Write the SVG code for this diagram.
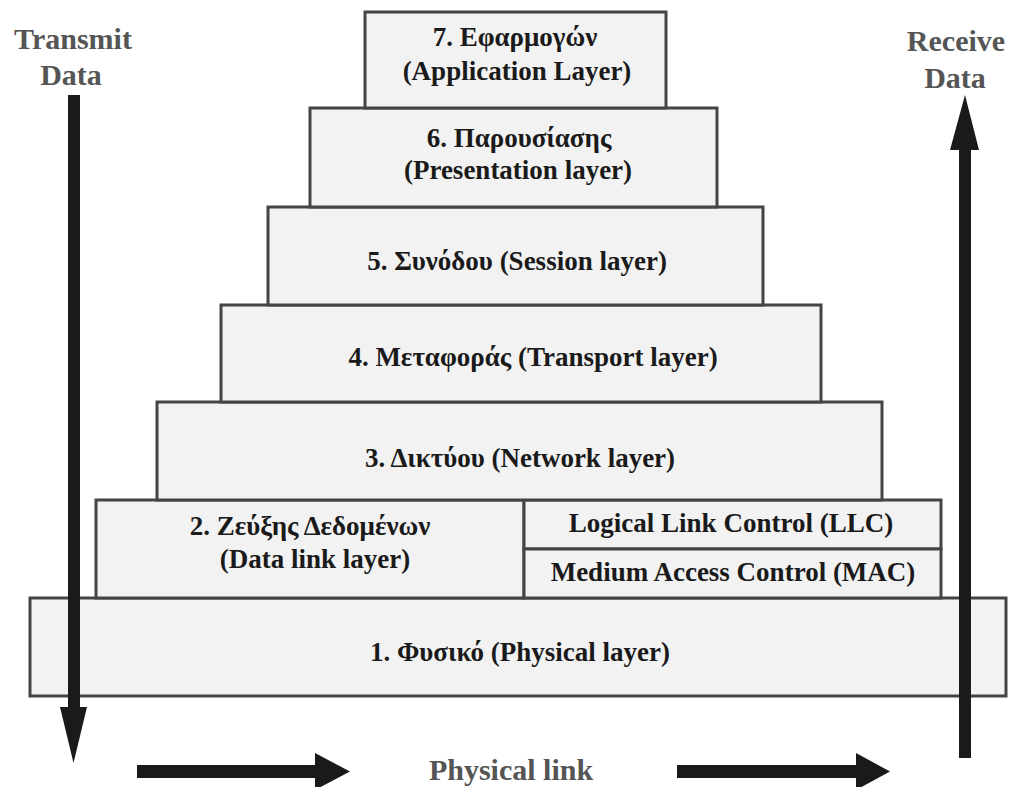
<svg xmlns="http://www.w3.org/2000/svg" width="1011" height="787" viewBox="0 0 1011 787">
<style>
.box{fill:#f2f2f2;stroke:#444;stroke-width:3}
.t{font-family:"Liberation Serif","Times New Roman",serif;font-weight:bold;font-size:27px;fill:#1a1a1a;text-anchor:middle}
.g{font-family:"Liberation Serif","Times New Roman",serif;font-weight:bold;font-size:30px;fill:#555;text-anchor:middle}
.arr{fill:#1a1a1a}
</style>
<rect width="1011" height="787" fill="#fff"/>
<g id="layer1">
<rect class="box" x="30" y="598" width="976" height="98"/>
<text class="t" x="520" y="661">1. Φυσικό (Physical layer)</text>
</g>
<g id="layer2">
<rect class="box" x="96" y="500" width="428" height="98"/>
<text class="t" x="310" y="535">2. Ζεύξης Δεδομένων</text>
<text class="t" x="315" y="568">(Data link layer)</text>
</g>
<g id="llc">
<rect class="box" x="524" y="500" width="417" height="49"/>
<text class="t" x="731" y="532">Logical Link Control (LLC)</text>
</g>
<g id="mac">
<rect class="box" x="524" y="549" width="417" height="49"/>
<text class="t" x="733" y="581">Medium Access Control (MAC)</text>
</g>
<g id="layer3">
<rect class="box" x="157" y="402" width="725" height="98"/>
<text class="t" x="520" y="467">3. Δικτύου (Network layer)</text>
</g>
<g id="layer4">
<rect class="box" x="221" y="305" width="600" height="97"/>
<text class="t" x="533" y="366">4. Μεταφοράς (Transport layer)</text>
</g>
<g id="layer5">
<rect class="box" x="268" y="207" width="495" height="98"/>
<text class="t" x="517" y="270">5. Συνόδου (Session layer)</text>
</g>
<g id="layer6">
<rect class="box" x="310" y="108" width="407" height="99"/>
<text class="t" x="519" y="147">6. Παρουσίασης</text>
<text class="t" x="518" y="179">(Presentation layer)</text>
</g>
<g id="layer7">
<rect class="box" x="365" y="12" width="301" height="96"/>
<text class="t" x="515" y="46">7. Εφαρμογών</text>
<text class="t" x="517" y="80">(Application Layer)</text>
</g>
<g id="transmit">
<text class="g" x="73" y="49">Transmit</text>
<text class="g" x="71" y="85">Data</text>
</g>
<g id="receive">
<text class="g" x="956" y="51">Receive</text>
<text class="g" x="955" y="88">Data</text>
</g>
<g id="physical-link">
<text class="g" x="511" y="780">Physical link</text>
</g>
<g id="connectors">
<polygon class="arr" points="68,95 80,95 80,707 87,707 73.5,763 60,707 68,707"/>
<polygon class="arr" points="965,95 979,150 971,150 971,758 959,758 959,150 950,150"/>
<polygon class="arr" points="137,765 315,765 315,753 350,771.5 315,790 315,778 137,778"/>
<polygon class="arr" points="677,765 856,765 856,753 890,771.5 856,790 856,778 677,778"/>
</g>
</svg>
